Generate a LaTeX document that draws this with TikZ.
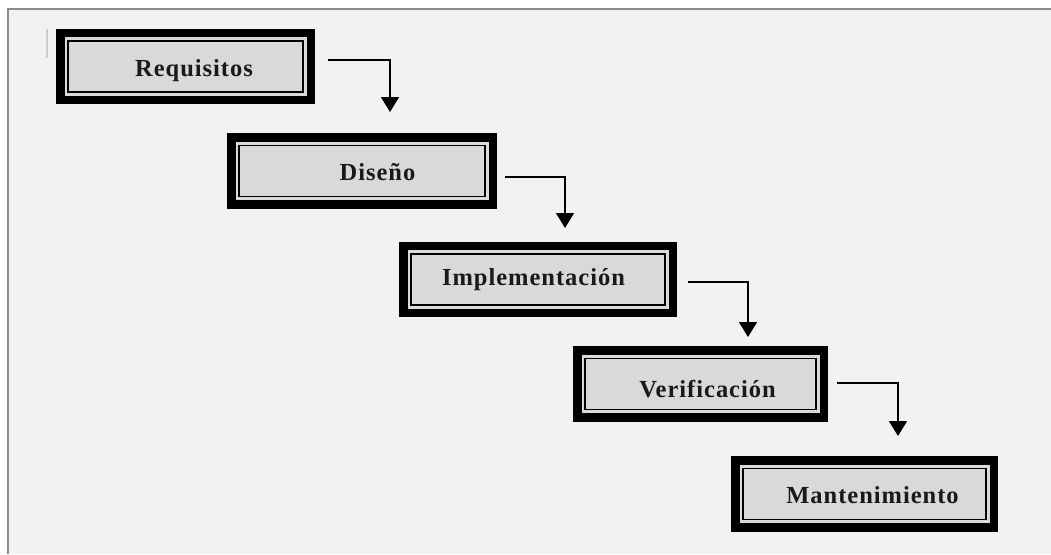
\documentclass[tikz,border=0pt]{standalone}
\usepackage{fontspec}
\setmainfont{Liberation Serif}
\usetikzlibrary{arrows.meta,calc}
\definecolor{bg}{HTML}{F2F2F2}
\definecolor{boxfill}{HTML}{D9D9D9}
\definecolor{frameline}{HTML}{8C8C8C}
\definecolor{cursorline}{HTML}{CCCCCC}
\tikzset{
  stagebox/.style={inner sep=0pt, fill=black, minimum height=75.5pt,
    path picture={
      \fill[boxfill] ($(path picture bounding box.south west)+(8.5pt,8.5pt)$) rectangle ($(path picture bounding box.north east)+(-8.5pt,-8.5pt)$);
      \draw[black, line width=1.6pt] ($(path picture bounding box.south west)+(12.2pt,12.2pt)$) rectangle ($(path picture bounding box.north east)+(-12.2pt,-12.2pt)$);
    }},
  stagetext/.style={font=\fontsize{24.5}{28}\selectfont\bfseries\addfontfeature{LetterSpace=4}, text=black!90, inner sep=0pt, anchor=base},
  steparrow/.style={line width=1.5pt, -{Triangle[width=18pt,length=15pt]}}
}
\begin{document}
\begin{tikzpicture}[x=1pt,y=-1pt]
\useasboundingbox (0,0) rectangle (1051,554);
\fill[white] (0,0) rectangle (1051,554);
\fill[bg] (8,9) rectangle (1051,554);
\draw[frameline, line width=2pt] (8,554) -- (8,9) -- (1051,9);
\draw[cursorline, line width=1.5pt] (47,29) -- (47,58);

\node[stagebox, minimum width=259pt] (b1) at (185.5,66.5) {};
\node[stagebox, minimum width=270pt] (b2) at (362,171) {};
\node[stagebox, minimum width=278pt] (b3) at (538,279.5) {};
\node[stagebox, minimum width=255pt] (b4) at (700.5,384) {};
\node[stagebox, minimum width=267pt] (b5) at (864.5,494) {};

\node[stagetext] (t1) at ($(b1.center)+(8.5,9.5)$) {Requisitos};
\node[stagetext] (t2) at ($(b2.center)+(15.5,9)$) {Diseño};
\node[stagetext] (t3) at ($(b3.center)+(-4.5,5.5)$) {Implementación};
\node[stagetext] (t4) at ($(b4.center)+(7,13.7)$) {Verificación};
\node[stagetext] (t5) at ($(b5.center)+(8,9)$) {Mantenimiento};

\coordinate (s1) at (328,60);  \coordinate (e1) at (390,112);
\coordinate (s2) at (505,177); \coordinate (e2) at (565,228);
\coordinate (s3) at (688,282); \coordinate (e3) at (748,337);
\coordinate (s4) at (837,383); \coordinate (e4) at (898,436);

\draw[steparrow] (s1) -| (e1);
\draw[steparrow] (s2) -| (e2);
\draw[steparrow] (s3) -| (e3);
\draw[steparrow] (s4) -| (e4);
\end{tikzpicture}
\end{document}
